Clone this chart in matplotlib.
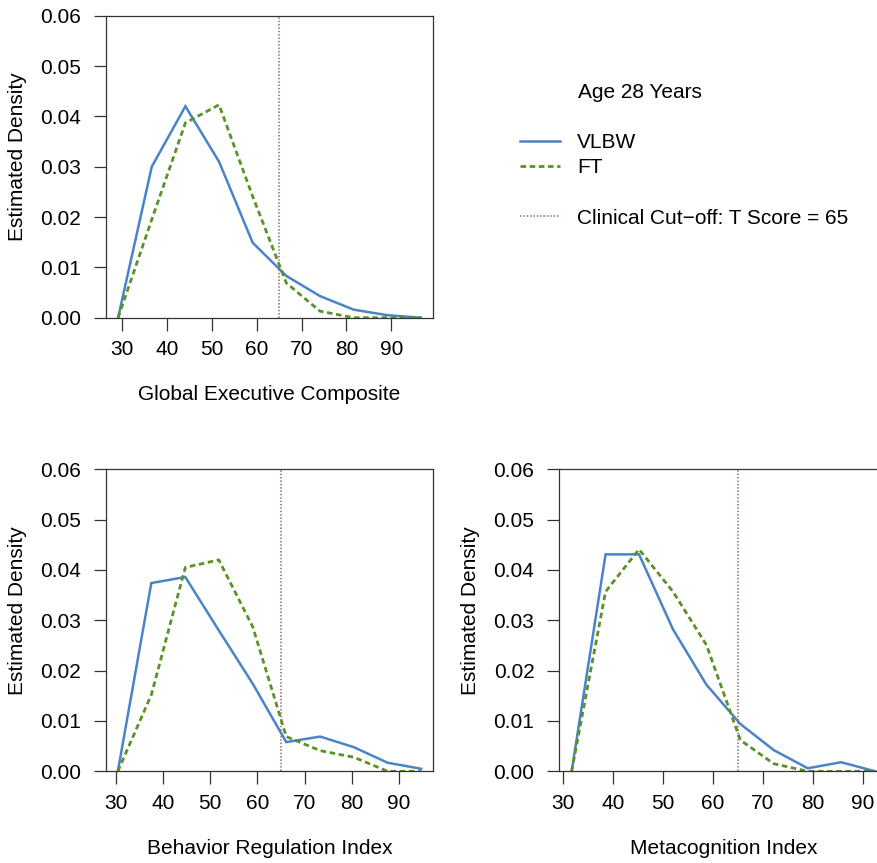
import matplotlib
matplotlib.use("Agg")
import matplotlib.pyplot as plt
from matplotlib.lines import Line2D

plt.rcParams['font.family'] = ['Liberation Sans', 'DejaVu Sans']
plt.rcParams['font.size'] = 15

# estimated densities, age 28 years
gec_x = [29.1, 36.6, 44.1, 51.6, 59.1, 66.6, 74.1, 81.6, 89.1, 96.6]
gec_vlbw = [0, 0.0300, 0.0420, 0.0310, 0.0149, 0.0083, 0.0043, 0.0016, 0.0005, 0.0]
gec_ft = [0, 0.0195, 0.0387, 0.0423, 0.0241, 0.0069, 0.0013, 0.0, 0.0, 0.0]

bri_x = [30.4, 37.5, 44.7, 51.8, 59.0, 66.1, 73.3, 80.4, 87.6, 94.7]
bri_vlbw = [0, 0.0374, 0.0386, 0.0280, 0.0174, 0.0058, 0.0069, 0.0048, 0.0017, 0.0005]
bri_ft = [0, 0.0152, 0.0405, 0.0420, 0.0287, 0.0069, 0.0041, 0.0028, 0.0, 0.0]

mi_x = [31.7, 38.5, 45.2, 52.0, 58.7, 65.5, 72.2, 79.0, 85.7, 92.5]
mi_vlbw = [0, 0.0431, 0.0431, 0.0282, 0.0172, 0.0094, 0.0042, 0.0006, 0.0018, 0.0]
mi_ft = [0, 0.0357, 0.0441, 0.0357, 0.0251, 0.0062, 0.0015, 0.0, 0.0, 0.0]

cutoff = 65
xticks = [30, 40, 50, 60, 70, 80, 90]
yticks = [0.00, 0.01, 0.02, 0.03, 0.04, 0.05, 0.06]

blue = '#4A84C8'
green = '#5A9226'
mauve = '#8B6B7A'

W, H = 878, 863
fig = plt.figure(figsize=(W / 100, H / 100), dpi=100)

# axes boxes in pixels: left, top, right, bottom
boxes = [(106, 15.7, 433, 317.7), (105.7, 469.3, 433.3, 771.3), (559.5, 469.3, 887.3, 771.3)]
panels = [
    (gec_x, gec_vlbw, gec_ft, 'Global Executive Composite'),
    (bri_x, bri_vlbw, bri_ft, 'Behavior Regulation Index'),
    (mi_x, mi_vlbw, mi_ft, 'Metacognition Index'),
]

for (l, t, r, b), (x, vlbw, ft, name) in zip(boxes, panels):
    ax = fig.add_axes([l / W, 1 - b / H, (r - l) / W, (b - t) / H])
    ax.plot(x, vlbw, color=blue, lw=1.8, solid_joinstyle='miter')
    ax.plot(x, ft, color=green, lw=2.0, linestyle=(0, (2.0, 1.3)))
    ax.axvline(cutoff, color=mauve, lw=1.1, linestyle=(0, (1, 1.2)))
    ax.margins(x=0.04)
    ax.set_ylim(0, 0.06)
    ax.set_xticks(xticks)
    ax.set_yticks(yticks)
    ax.set_yticklabels(['%.2f' % v for v in yticks])
    ax.tick_params(length=9, width=0.9, color='#333333', direction='out')
    ax.tick_params(axis='y', pad=9)
    ax.tick_params(axis='x', pad=7)
    for s in ax.spines.values():
        s.set_linewidth(0.9)
        s.set_color('#333333')
    ax.set_xlabel(name, labelpad=19)
    ax.set_ylabel('Estimated Density')
    ax.yaxis.set_label_coords(-0.2416, 0.532)

fig.text(578 / W, 1 - 92 / H, 'Age 28 Years', ha='left', va='center')
handles = [
    Line2D([], [], color=blue, lw=1.8),
    Line2D([], [], color=green, lw=2.0, linestyle=(0, (2.0, 1.3))),
    Line2D([], [], color='none'),
    Line2D([], [], color=mauve, lw=1.1, linestyle=(0, (1, 1.2))),
]
labels = ['VLBW', 'FT', 'Ag', 'Clinical Cut\u2212off: T Score = 65']
leg = fig.legend(handles, labels, loc='upper left', bbox_to_anchor=(520 / W, 1 - 133 / H),
                 frameon=False, borderpad=0, borderaxespad=0, handlelength=1.9,
                 handletextpad=0.85, labelspacing=0.3)
# blank spacer row between groups
leg.get_texts()[2].set_alpha(0)

fig.savefig('out.png', dpi=100)
